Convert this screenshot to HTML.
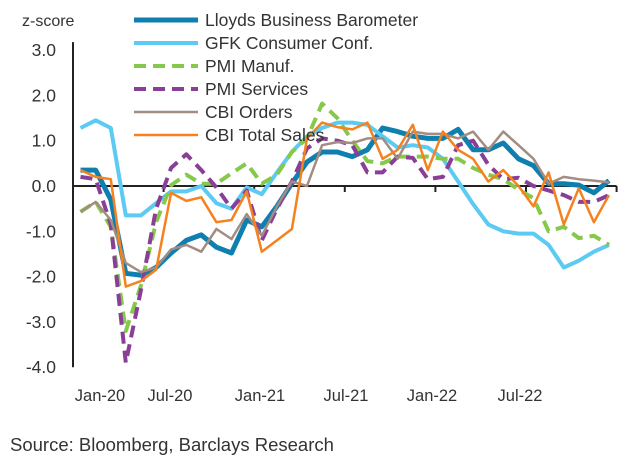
<!DOCTYPE html>
<html><head><meta charset="utf-8"><style>
body{margin:0;background:#fff;width:628px;height:464px;overflow:hidden;font-family:"Liberation Sans",sans-serif}
svg text{font-family:"Liberation Sans",sans-serif;fill:#333}
</style></head><body>
<svg id="c" width="628" height="464">
<text x="22" y="26" font-size="16">z-score</text>
<text x="10" y="451" font-size="18.5" fill="#444">Source: Bloomberg, Barclays Research</text>
<g id="axes"></g><g id="series"></g><g id="legend"></g>
</svg>
<script>
const months = 36;
const xLabels = ["Jan-20","Jul-20","Jan-21","Jul-21","Jan-22","Jul-22"];
const yTicks = [3,2,1,0,-1,-2,-3,-4];
const seriesNames = ["Lloyds Business Barometer","GFK Consumer Conf.","PMI Manuf.","PMI Services","CBI Orders","CBI Total Sales"];
const lloyds = [0.35,0.35,-0.3,-1.93,-1.97,-1.8,-1.48,-1.2,-1.08,-1.35,-1.48,-0.75,-0.9,-0.45,0.06,0.53,0.75,0.75,0.65,0.8,1.28,1.2,1.1,1.05,1.05,1.25,0.8,0.8,0.95,0.6,0.45,0.05,0.05,0.02,-0.15,0.12];
const gfk = [1.28,1.45,1.28,-0.65,-0.65,-0.38,-0.12,-0.12,0.0,-0.38,-0.5,-0.03,-0.18,0.3,0.75,1.1,1.28,1.4,1.4,1.35,1.1,0.85,0.9,0.85,0.6,0.1,-0.4,-0.85,-1.0,-1.05,-1.05,-1.3,-1.8,-1.65,-1.45,-1.3];
const pmiManuf = [-0.57,-0.35,-0.9,-3.2,-2.2,-0.8,0.02,0.25,0.05,0.05,0.28,0.5,0.05,0.25,0.75,1.05,1.82,1.5,1.0,0.55,0.5,0.65,0.65,0.65,0.6,0.6,0.4,0.25,0.15,-0.08,-0.27,-1.0,-0.9,-1.15,-1.1,-1.3];
const pmiServices = [0.2,0.15,-0.85,-3.9,-2.3,-0.5,0.4,0.7,0.35,-0.03,-0.5,-0.1,-1.2,-0.5,0.1,0.83,1.05,1.0,0.9,0.3,0.3,0.65,0.62,0.15,0.2,0.9,1.0,0.47,0.15,0.18,0.0,-0.1,-0.2,-0.35,-0.35,-0.2];
const cbiOrders = [-0.57,-0.35,-0.75,-1.7,-1.9,-1.8,-1.4,-1.3,-1.45,-0.95,-1.17,-0.62,-1.1,-0.45,0.1,0.0,0.9,0.97,0.95,1.05,1.05,0.6,1.2,1.15,1.15,1.05,1.2,0.8,1.2,0.9,0.6,0.05,0.2,0.15,0.12,0.08];
const cbiSales = [0.35,0.2,0.15,-2.22,-2.1,-1.85,-0.15,-0.33,-0.25,-0.8,-0.75,-0.12,-1.45,-1.2,-0.95,1.05,1.4,1.3,1.25,1.4,0.6,0.8,1.35,0.35,1.2,0.8,0.6,0.1,0.35,0.0,-0.45,0.3,-0.85,-0.05,-0.8,-0.2];
const allData = [lloyds,gfk,pmiManuf,pmiServices,cbiOrders,cbiSales];
const styles = [
 {c:"#0e7fae",w:5,d:""},{c:"#5ccaf2",w:4,d:""},{c:"#86c84a",w:4,d:"12,7"},
 {c:"#8a3f97",w:4,d:"12,7"},{c:"#a38c82",w:2.5,d:""},{c:"#f5821f",w:2.5,d:""}];
const X0=73, XW=15.1, Y0=186, YS=45.3;
const xs = i => X0 + XW*(i+0.5);
const ys = v => Y0 - v*YS;
const NS="http://www.w3.org/2000/svg";
function mk(t,a,p){const e=document.createElementNS(NS,t);for(const k in a)e.setAttribute(k,a[k]);p.appendChild(e);return e;}
const ax=document.getElementById('axes');
let e=mk('line',{x1:X0,x2:X0,y1:ys(3)-8,y2:ys(-4),stroke:'#222','stroke-width':2},ax);


e=mk('line',{x1:X0,x2:X0+XW*36,y1:Y0,y2:Y0,stroke:'#222','stroke-width':2},ax);


for(let k=0;k<=6;k++){
 e=mk('line',{x1:X0+XW*6*k,x2:X0+XW*6*k,y1:Y0,y2:Y0+6,stroke:'#222','stroke-width':2},ax);
 
 
}
yTicks.forEach(v=>{
 const t=mk('text',{x:56,y:ys(v)+6,'font-size':17.5,'text-anchor':'end'},ax);
 t.textContent=v.toFixed(1);
 
 
});
const labX=[100,170,260,346,432,520];
xLabels.forEach((s,k)=>{
 const t=mk('text',{x:labX[k],y:401,'font-size':16.5,'text-anchor':'middle'},ax);
 t.textContent=s;
 
 
});
const sg=document.getElementById('series');
allData.forEach((arr,j)=>{
 const p=arr.map((v,i)=>(i?'L':'M')+xs(i).toFixed(1)+','+ys(v).toFixed(1)).join('');
 const s=styles[j];
 const el=mk('path',{d:p,fill:'none',stroke:s.c,'stroke-width':s.w,'stroke-linejoin':'round','stroke-dasharray':s.d},sg);
 
 
});
const lg=document.getElementById('legend');
seriesNames.forEach((n,j)=>{
 const y=20+j*23, s=styles[j];
 const g=mk('g',{},lg);
 
 
 mk('line',{x1:134,x2:198,y1:y,y2:y,stroke:s.c,'stroke-width':s.w,'stroke-dasharray':s.d},g);
 const t=mk('text',{x:205,y:y+6,'font-size':17.5},g);
 t.textContent=n;
});
</script>
</body></html>
